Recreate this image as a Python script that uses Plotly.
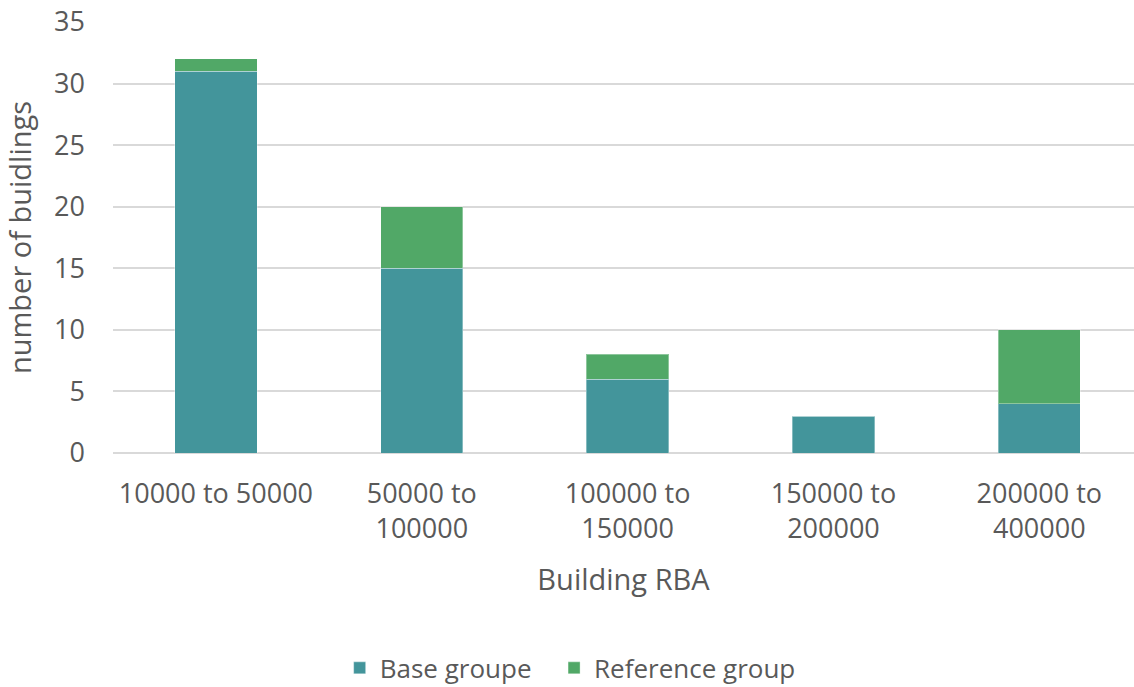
import plotly.graph_objects as go

categories = ["10000 to 50000", "50000 to<br>100000", "100000 to<br>150000", "150000 to<br>200000", "200000 to<br>400000"]
base_group = [31, 15, 6, 3, 4]
reference_group = [1, 5, 2, 0, 6]
y_ticks = [0, 5, 10, 15, 20, 25, 30, 35]

TEAL = "#43959B"
GREEN = "#51A867"
GRAY = "#595959"
FONT = "Open Sans"

fig = go.Figure()
fig.add_trace(go.Bar(x=categories, y=base_group, name="Base groupe", legend="legend",
                     marker=dict(color=TEAL, line=dict(color="rgba(255,255,255,0.35)", width=1))))
fig.add_trace(go.Bar(x=categories, y=reference_group, name="Reference group", legend="legend2",
                     marker=dict(color=GREEN, line=dict(color="rgba(255,255,255,0.35)", width=1))))

legend_common = dict(orientation="h", xref="paper", xanchor="left",
                     yref="container", y=0.0277, yanchor="middle",
                     font=dict(family=FONT, size=26, color=GRAY))

fig.update_layout(
    barmode="stack",
    bargap=0.6,
    width=1134, height=687,
    margin=dict(l=113, r=0, t=22, b=234),
    paper_bgcolor="white", plot_bgcolor="white",
    font=dict(family=FONT, color=GRAY, size=26),
    showlegend=True,
    legend=dict(x=0.222, **legend_common),
    legend2=dict(x=0.432, **legend_common),
    xaxis=dict(range=[-0.5, 4.46], showgrid=False, zeroline=False, showline=False, automargin=False,
               ticks="", ticklabelstandoff=22, tickfont=dict(family=FONT, size=27, color=GRAY),
               title=dict(text="Building RBA", font=dict(family=FONT, size=29, color=GRAY), standoff=24)),
    yaxis=dict(range=[0, 35], tickvals=y_ticks, showgrid=True, gridcolor="#D9D9D9", gridwidth=1.5,
               zeroline=True, zerolinecolor="#D9D9D9", zerolinewidth=1.5, showline=False, automargin=False,
               ticks="", ticklabelstandoff=27, ticklabeloverflow="allow",
               tickfont=dict(family=FONT, size=27, color=GRAY),
               title=dict(text="number of buidlings", font=dict(family=FONT, size=29, color=GRAY), standoff=14)),
)

fig.write_html("out.html",
               config={"displayModeBar": False},
               post_script="document.body.style.margin='0';document.body.style.overflow='hidden';")
